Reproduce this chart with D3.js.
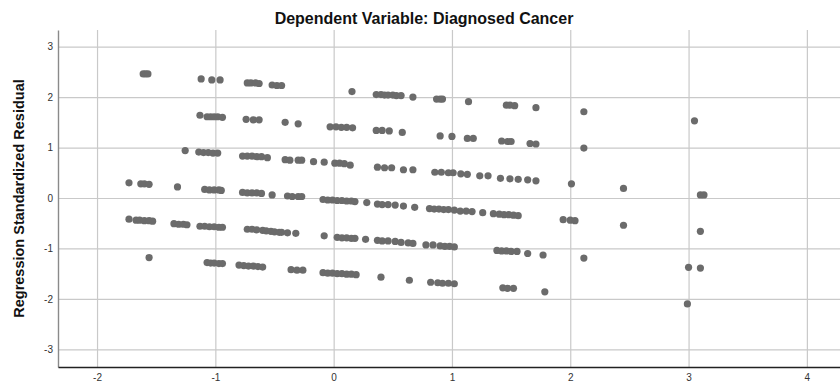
<!DOCTYPE html>
<html>
<head>
<meta charset="utf-8">
<script src="https://cdn.jsdelivr.net/npm/d3@7"></script>
<style>
  body { margin: 0; background: #fff; }
  svg text { font-family: "Liberation Sans", Arial, sans-serif; }
</style>
</head>
<body>
<svg id="chart"></svg>
<script>
// titles + ticks
const chartTitle = "Dependent Variable: Diagnosed Cancer";
const yTitle = "Regression Standardized Residual";
const xTicks = [-2, -1, 0, 1, 2, 3, 4];
const yTicks = [-3, -2, -1, 0, 1, 2, 3];

// points, one array per diagonal band [predicted, residual]
const band1 = [
  [-1.61,2.46],[-1.59,2.46],[-1.57,2.46],
  [-1.12,2.36],[-1.03,2.34],[-0.96,2.34],
  [-0.73,2.28],[-0.70,2.28],[-0.66,2.28],[-0.63,2.27],
  [-0.52,2.24],[-0.48,2.23],[-0.44,2.23],
  [0.155,2.11],
  [0.36,2.05],[0.40,2.05],[0.43,2.04],[0.46,2.04],[0.50,2.04],[0.53,2.03],[0.57,2.03],
  [0.67,2.00],
  [0.87,1.96],[0.90,1.96],[0.92,1.96],
  [1.14,1.91],
  [1.46,1.84],[1.49,1.84],[1.53,1.83],
  [1.71,1.79],
  [2.115,1.71],
  [3.05,1.53]
];
const band2 = [
  [-1.13,1.64],
  [-1.07,1.61],[-1.04,1.61],[-1.01,1.61],[-0.98,1.61],[-0.94,1.60],
  [-0.74,1.56],[-0.68,1.55],[-0.63,1.55],
  [-0.41,1.50],[-0.30,1.47],
  [-0.03,1.41],[0.02,1.41],[0.065,1.40],[0.11,1.40],[0.16,1.39],
  [0.36,1.34],[0.41,1.34],[0.47,1.33],
  [0.58,1.30],
  [0.90,1.23],[1.00,1.22],[1.13,1.18],[1.18,1.18],
  [1.42,1.13],[1.47,1.12],[1.50,1.12],
  [1.66,1.08],[1.71,1.07],
  [2.115,0.99]
];
const band3 = [
  [-1.255,0.94],
  [-1.14,0.91],[-1.10,0.90],[-1.06,0.90],[-1.02,0.89],[-0.98,0.89],
  [-0.77,0.83],[-0.73,0.83],[-0.69,0.83],[-0.65,0.82],[-0.61,0.82],
  [-0.56,0.80],
  [-0.41,0.76],[-0.37,0.75],[-0.30,0.75],[-0.27,0.75],
  [-0.17,0.72],[-0.08,0.71],
  [0.01,0.69],[0.05,0.69],[0.09,0.68],
  [0.14,0.65],
  [0.37,0.61],[0.43,0.60],[0.49,0.60],
  [0.59,0.56],[0.67,0.56],
  [0.855,0.51],[0.91,0.51],[0.97,0.50],[1.01,0.50],
  [1.075,0.48],[1.13,0.47],
  [1.235,0.44],[1.305,0.44],
  [1.41,0.39],[1.49,0.38],[1.56,0.37],[1.64,0.36],[1.71,0.34],
  [2.01,0.28],[2.45,0.19],[3.10,0.06],[3.13,0.06]
];
const band4 = [
  [-1.73,0.30],
  [-1.63,0.28],[-1.60,0.28],[-1.56,0.27],
  [-1.32,0.22],
  [-1.09,0.17],[-1.05,0.16],[-1.01,0.16],[-0.97,0.16],[-0.95,0.15],
  [-0.77,0.11],[-0.73,0.10],[-0.69,0.10],[-0.65,0.10],[-0.61,0.09],
  [-0.52,0.06],
  [-0.39,0.04],[-0.35,0.03],[-0.30,0.03],[-0.27,0.03],
  [-0.09,-0.03],[-0.05,-0.04],[-0.01,-0.04],[0.03,-0.05],[0.07,-0.05],[0.11,-0.06],[0.15,-0.06],[0.18,-0.07],
  [0.28,-0.09],
  [0.37,-0.12],[0.41,-0.13],[0.46,-0.13],[0.52,-0.14],
  [0.59,-0.16],[0.685,-0.185],
  [0.81,-0.21],[0.85,-0.22],[0.89,-0.22],[0.93,-0.23],[0.97,-0.23],[1.02,-0.24],
  [1.07,-0.26],[1.12,-0.26],[1.17,-0.27],
  [1.26,-0.29],
  [1.35,-0.31],[1.40,-0.32],[1.44,-0.33],[1.48,-0.33],[1.52,-0.34],[1.56,-0.35],
  [1.94,-0.43],[2.00,-0.44],[2.04,-0.45],
  [2.45,-0.54],
  [3.10,-0.66]
];
const band5 = [
  [-1.73,-0.42],
  [-1.67,-0.44],[-1.64,-0.44],[-1.60,-0.45],[-1.56,-0.45],[-1.53,-0.46],
  [-1.35,-0.51],[-1.31,-0.52],[-1.27,-0.52],[-1.24,-0.53],
  [-1.13,-0.56],[-1.09,-0.56],[-1.05,-0.57],[-1.01,-0.57],[-0.97,-0.58],[-0.94,-0.58],
  [-0.73,-0.62],[-0.69,-0.62],[-0.65,-0.63],[-0.60,-0.64],
  [-0.57,-0.65],[-0.53,-0.66],[-0.50,-0.67],[-0.46,-0.68],
  [-0.44,-0.68],[-0.39,-0.69],[-0.32,-0.70],
  [-0.08,-0.75],
  [0.03,-0.78],[0.07,-0.79],[0.11,-0.79],[0.15,-0.80],[0.18,-0.80],
  [0.27,-0.82],
  [0.37,-0.84],[0.41,-0.85],[0.46,-0.85],[0.52,-0.86],
  [0.57,-0.88],[0.63,-0.89],[0.67,-0.90],
  [0.78,-0.93],[0.84,-0.93],
  [0.90,-0.95],[0.94,-0.96],[0.98,-0.96],[1.02,-0.97],
  [1.38,-1.04],[1.42,-1.05],[1.46,-1.05],[1.50,-1.06],[1.55,-1.06],
  [1.64,-1.10],[1.77,-1.13],
  [2.115,-1.19],
  [3.00,-1.375],[3.10,-1.39]
];
const band6 = [
  [-1.56,-1.18],
  [-1.07,-1.28],[-1.04,-1.29],[-1.01,-1.29],[-0.97,-1.30],[-0.94,-1.30],
  [-0.80,-1.33],[-0.76,-1.34],[-0.72,-1.35],[-0.68,-1.35],[-0.64,-1.36],[-0.60,-1.37],
  [-0.36,-1.42],[-0.31,-1.43],[-0.26,-1.43],
  [-0.09,-1.48],[-0.05,-1.49],[-0.01,-1.49],[0.03,-1.50],[0.07,-1.50],[0.11,-1.51],[0.15,-1.51],[0.19,-1.52],
  [0.40,-1.57],
  [0.64,-1.63],
  [0.82,-1.67],
  [0.88,-1.68],[0.92,-1.69],[0.97,-1.69],[1.02,-1.70],
  [1.43,-1.78],[1.47,-1.79],[1.52,-1.79],
  [1.785,-1.86],
  [2.99,-2.10]
];
const points = [].concat(band1, band2, band3, band4, band5, band6);

const width = 840, height = 386;
const plot = { left: 58, right: 840, top: 30, bottom: 367 };

const svg = d3.select("#chart")
    .attr("width", width)
    .attr("height", height);

const xScale = d3.scaleLinear()
    .domain([-2.33, 4.28])
    .range([plot.left, plot.right]);

const yScale = d3.scaleLinear()
    .domain([-3.35, 3.33])
    .range([plot.bottom, plot.top]);

// plain hyphen for negatives, like the original
const intFmt = d => String(d);

// --- gridlines ---
svg.append("g")
    .attr("class", "grid-x")
    .attr("transform", `translate(0,${plot.bottom})`)
    .call(d3.axisBottom(xScale).tickValues(xTicks)
        .tickSize(-(plot.bottom - plot.top)).tickFormat(""))
    .call(g => g.select(".domain").remove())
    .call(g => g.selectAll("line").attr("stroke", "#c9c9c9").attr("stroke-width", 1.2));

svg.append("g")
    .attr("class", "grid-y")
    .attr("transform", `translate(${plot.left},0)`)
    .call(d3.axisLeft(yScale).tickValues(yTicks)
        .tickSize(-(plot.right - plot.left)).tickFormat(""))
    .call(g => g.select(".domain").remove())
    .call(g => g.selectAll("line").attr("stroke", "#c9c9c9").attr("stroke-width", 1.2));

// --- axes (labels only, no tick marks) ---
svg.append("g")
    .attr("transform", `translate(${plot.left},0)`)
    .call(d3.axisLeft(yScale).tickValues(yTicks).tickFormat(intFmt)
        .tickSize(0).tickPadding(5).tickSizeOuter(0))
    .call(g => g.select(".domain").attr("stroke", "#8a8a8a").attr("stroke-width", 1.4))
    .call(g => g.selectAll("text").attr("font-size", 10).attr("fill", "#333")
        .attr("font-family", "'Liberation Sans', Arial, sans-serif"));

svg.append("g")
    .attr("transform", `translate(0,${plot.bottom})`)
    .call(d3.axisBottom(xScale).tickValues(xTicks).tickFormat(intFmt)
        .tickSize(0).tickPadding(7).tickSizeOuter(0))
    .call(g => g.select(".domain").attr("stroke", "#222").attr("stroke-width", 1.4))
    .call(g => g.selectAll("text").attr("font-size", 10).attr("fill", "#333")
        .attr("font-family", "'Liberation Sans', Arial, sans-serif"));

// --- points ---
svg.append("g")
    .selectAll("circle")
    .data(points)
    .join("circle")
    .attr("cx", d => xScale(d[0]))
    .attr("cy", d => yScale(d[1]))
    .attr("r", 3.6)
    .attr("fill", "#6b6b6b");

// --- titles ---
svg.append("text")
    .attr("x", 424)
    .attr("y", 24)
    .attr("text-anchor", "middle")
    .attr("font-size", 16)
    .attr("font-weight", "bold")
    .attr("fill", "#111")
    .text(chartTitle);

svg.append("text")
    .attr("transform", `translate(24,${(plot.top + plot.bottom) / 2}) rotate(-90)`)
    .attr("text-anchor", "middle")
    .attr("font-size", 14.5)
    .attr("font-weight", "bold")
    .attr("fill", "#111")
    .text(yTitle);
</script>
</body>
</html>
